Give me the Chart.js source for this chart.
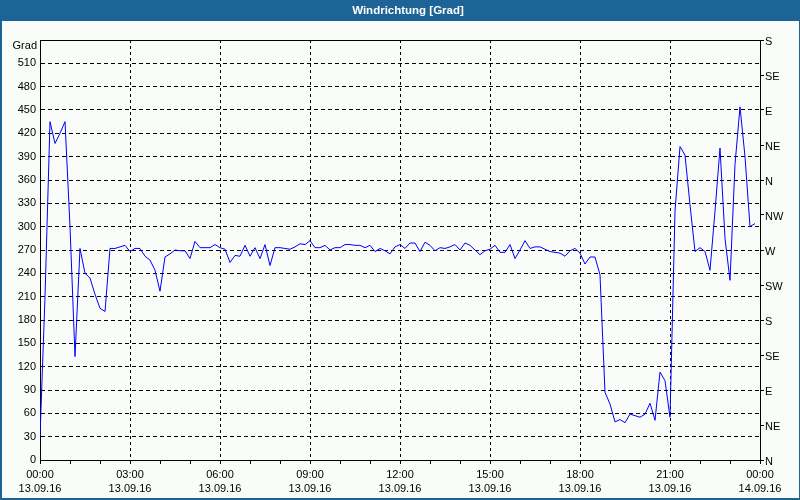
<!DOCTYPE html>
<html>
<head>
<meta charset="utf-8">
<script src="https://cdn.jsdelivr.net/npm/chart.js@4.4.1/dist/chart.umd.min.js"></script>
<style>
  html, body { margin: 0; padding: 0; background: #ffffff; }
  #wrap { width: 800px; height: 500px; }
</style>
</head>
<body>
<div id="wrap"><canvas id="c" width="800" height="500"></canvas></div>
<script>
// ---- data ----
const TITLE = 'Windrichtung [Grad]';
const Y_UNIT = 'Grad';
const STEP_MINUTES = 10; // one reading every 10 minutes, starting 13.09.16 00:00
const windDirection = [
  30, 210, 435, 407, 420, 435, 300, 133, 272, 240,
  234, 213, 195, 191, 272, 272, 274, 276, 268, 272,
  272, 262, 257, 244, 217, 261, 265, 270, 269, 269,
  259, 281, 273, 273, 273, 277, 273, 271, 254, 263,
  262, 276, 262, 273, 259, 277, 250, 273, 273, 272,
  271, 274, 278, 277, 282, 273, 273, 276, 270, 273,
  273, 277, 277, 276, 276, 273, 276, 268, 272, 269,
  265, 274, 277, 272, 279, 279, 268, 280, 276, 269,
  273, 272, 274, 277, 270, 279, 276, 270, 264, 269,
  271, 276, 267, 267, 277, 259, 270, 282, 272, 274,
  274, 271, 268, 267, 266, 262, 269, 272, 266, 252,
  261, 261, 238, 87, 72, 49, 52, 48, 59, 57,
  55, 59, 73, 51, 113, 102, 55, 320, 403, 392,
  328, 268, 273, 268, 244, 320, 401, 285, 231, 380,
  454, 390, 300, 304
];
const xTimeLabels = ['00:00', '03:00', '06:00', '09:00', '12:00', '15:00', '18:00', '21:00', '00:00'];
const xDateLabels = ['13.09.16', '13.09.16', '13.09.16', '13.09.16', '13.09.16', '13.09.16', '13.09.16', '13.09.16', '14.09.16'];
const compassLabels = ['N', 'NE', 'E', 'SE', 'S', 'SW', 'W', 'NW', 'N', 'NE', 'E', 'SE', 'S'];

// ---- styling ----
const FRAME = '#1c6396';
const BG = '#f9fcf9';
const FONT = '"Liberation Sans", Arial, sans-serif';

const points = windDirection.map((v, i) => ({ x: i * STEP_MINUTES, y: v }));

const framePlugin = {
  id: 'frame',
  beforeDraw(chart) {
    const { ctx, width, height } = chart;
    ctx.save();
    ctx.fillStyle = FRAME;
    ctx.fillRect(0, 0, width, height);
    ctx.fillStyle = BG;
    ctx.fillRect(2, 21, width - 3, height - 23);
    ctx.fillStyle = '#ffffff';
    ctx.font = 'bold 11.5px ' + FONT;
    ctx.textAlign = 'center';
    ctx.textBaseline = 'middle';
    ctx.fillText(TITLE, 408, 11);
    ctx.restore();
  },
  afterDraw(chart) {
    const { ctx, chartArea } = chart;
    ctx.save();
    ctx.strokeStyle = '#000000';
    ctx.lineWidth = 1;
    ctx.beginPath();
    ctx.moveTo(chartArea.left, chartArea.top + 0.5);
    ctx.lineTo(chartArea.right + 1, chartArea.top + 0.5);
    ctx.stroke();
    ctx.fillStyle = '#000000';
    ctx.font = '11px ' + FONT;
    ctx.textAlign = 'right';
    ctx.textBaseline = 'middle';
    ctx.fillText(Y_UNIT, chartArea.left - 3, chartArea.top + 6);
    ctx.restore();
  }
};

new Chart(document.getElementById('c'), {
  type: 'line',
  data: {
    datasets: [{
      data: points,
      borderColor: '#0000ff',
      borderWidth: 1,
      pointRadius: 0,
      tension: 0,
      fill: false
    }]
  },
  options: {
    responsive: false,
    animation: false,
    devicePixelRatio: 1,
    layout: { padding: { top: 40, left: 0, right: 0, bottom: 0 } },
    plugins: { legend: { display: false }, title: { display: false }, tooltip: { enabled: false } },
    scales: {
      x: {
        type: 'linear',
        position: 'bottom',
        min: 0,
        max: 1440,
        afterFit: s => { s.height = 40; },
        afterBuildTicks: s => {
          const t = [];
          for (let v = 0; v <= 1440; v += 60) t.push({ value: v });
          s.ticks = t;
        },
        ticks: {
          autoSkip: false,
          maxRotation: 0,
          minRotation: 0,
          padding: 4,
          color: '#000000',
          font: { family: FONT, size: 11, lineHeight: '14px' },
          callback: v => (v % 180 === 0) ? [xTimeLabels[v / 180], xDateLabels[v / 180]] : ''
        },
        grid: {
          color: ctx => (ctx.tick && ctx.tick.value % 180 === 0 && ctx.tick.value !== 0 && ctx.tick.value !== 1440) ? '#000000' : 'rgba(0,0,0,0)',
          tickColor: '#000000',
          tickLength: 4,
          lineWidth: 1
        },
        border: { display: true, color: '#000000', width: 1, dash: [3, 3] }
      },
      y: {
        type: 'linear',
        position: 'left',
        min: 0,
        max: 540,
        afterFit: s => { s.width = 40; },
        ticks: {
          stepSize: 30,
          padding: 4,
          color: '#000000',
          font: { family: FONT, size: 11 },
          callback: v => (v === 540 ? '' : String(v))
        },
        grid: { color: '#000000', drawTicks: false, lineWidth: 1 },
        border: { display: true, color: '#000000', width: 1, dash: [4, 3] }
      },
      y2: {
        type: 'linear',
        position: 'right',
        min: 0,
        max: 540,
        afterFit: s => { s.width = 40; },
        ticks: {
          stepSize: 45,
          padding: 1,
          labelOffset: 2,
          color: '#000000',
          font: { family: FONT, size: 11 },
          callback: v => compassLabels[Math.round(v / 45)]
        },
        grid: { drawOnChartArea: false, drawTicks: true, tickLength: 4, color: '#000000', tickColor: '#000000' },
        border: { display: true, color: '#000000', width: 1 }
      }
    }
  },
  plugins: [framePlugin]
});
</script>
</body>
</html>
